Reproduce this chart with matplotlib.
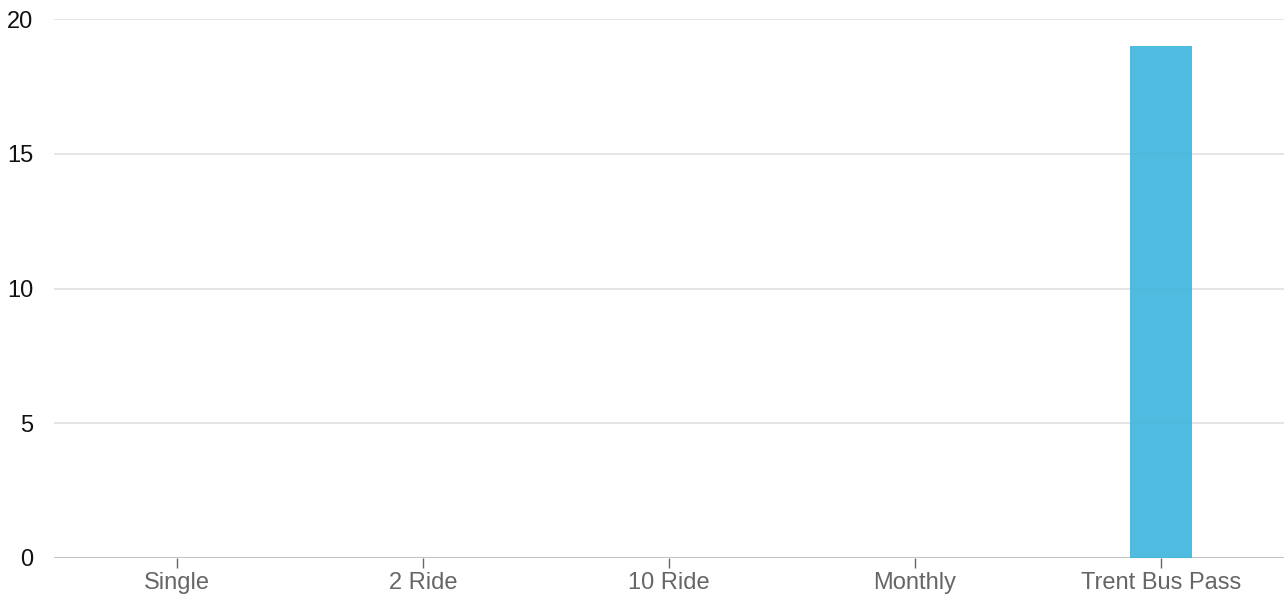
import matplotlib
matplotlib.use("Agg")
import numpy as np
from matplotlib import pyplot as plt

plt.rcParams['font.family'] = ['Liberation Sans', 'DejaVu Sans']

categories = ['Single', '2 Ride', '10 Ride', 'Monthly', 'Trent Bus Pass']
counts = [0, 0, 0, 0, 19]
yticks = [0, 5, 10, 15, 20]

fig = plt.figure(figsize=(12.87, 6.11), dpi=100)
ax = fig.add_axes([54/1287, 53/611, 1230/1287, 539/611])

x = np.arange(len(categories))
ax.bar(x, counts, width=0.25, color='#3db4dd', alpha=0.9, zorder=4)

ax.set_xlim(-0.5, len(categories) - 0.5)
ax.set_ylim(0, 20)
ax.set_yticks(yticks)
ax.set_yticklabels([str(t) for t in yticks], fontsize=17, color='#111111')
ax.set_xticks(x)
ax.set_xticklabels(categories, fontsize=17, color='#666666')

ax.tick_params(axis='y', length=0, pad=15)
ax.tick_params(axis='x', length=7, width=1, color='#666666', pad=3)

for t in yticks[1:]:
    ax.axhline(t, color='#e0e0e0', lw=1.2, zorder=1)
ax.axhline(0, color='#c4c4c4', lw=1.5, zorder=3)

for s in ax.spines.values():
    s.set_visible(False)

fig.savefig('out.png', dpi=100)
